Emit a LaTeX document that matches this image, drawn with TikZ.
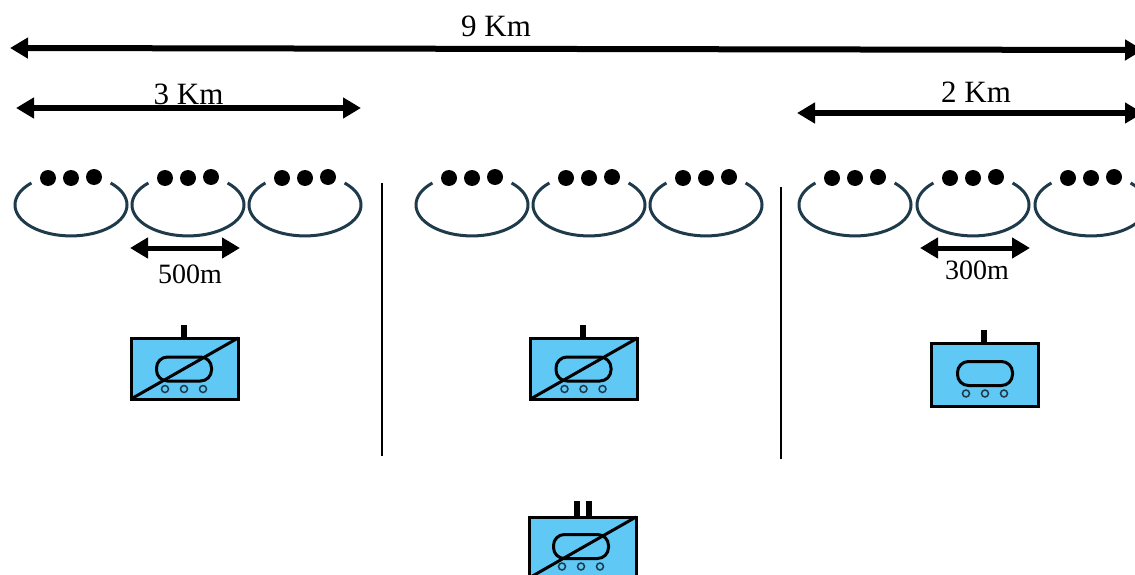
\documentclass[tikz,border=0pt]{standalone}
\usepackage{fontspec}
\setmainfont{Liberation Serif}
\usetikzlibrary{arrows.meta}
\definecolor{ringblue}{HTML}{1F3A4A}
\definecolor{boxblue}{HTML}{5FC8F5}
\tikzset{
	span/.style={line width=#1,{Triangle[length=18pt,width=20pt]}-{Triangle[length=18pt,width=20pt]}},
	ring/.style={draw=ringblue,line width=3pt},
	wall/.style={line width=2.5pt},
	stub/.style={line width=6pt},
	bsbox/.style={draw,fill=boxblue,line width=3pt,minimum width=107pt,minimum height=#1,inner sep=0pt,outer sep=0pt},
	tank/.style={draw,line width=3pt,rounded corners=11pt,minimum width=55pt,minimum height=24pt,inner sep=0pt,outer sep=0pt},
	wheel/.style={draw=ringblue,circle,line width=1.5pt,minimum size=7pt,inner sep=0pt},
	lengthlabel/.style={font=\fontsize{31pt}{31pt}\selectfont,inner sep=0pt},
	celllabel/.style={font=\fontsize{28pt}{28pt}\selectfont,inner sep=0pt}
}
\begin{document}
\begin{tikzpicture}[x=1pt,y=-1pt]
	\useasboundingbox (0,0) rectangle (1135,575);

	\coordinate (nineL) at (10,48);
	\coordinate (nineR) at (1143,50);
	\coordinate (threeL) at (16,108);
	\coordinate (threeR) at (361,108);
	\coordinate (twoL) at (797,113);
	\coordinate (twoR) at (1143,113);
	\coordinate (fiveL) at (130,248);
	\coordinate (fiveR) at (240,248);
	\coordinate (treL) at (920,248);
	\coordinate (treR) at (1030,248);

	\draw[span=6pt] (nineL) -- (nineR);
	\draw[span=5.5pt] (threeL) -- (threeR);
	\draw[span=5.5pt] (twoL) -- (twoR);
	\draw[span=5pt] (fiveL) -- (fiveR);
	\draw[span=5pt] (treL) -- (treR);

	\node[lengthlabel] (nine) at (496,26.5) {9 Km};
	\node[lengthlabel] (three) at (188.5,94.5) {3 Km};
	\node[lengthlabel] (two) at (976,92.5) {2 Km};
	\node[celllabel] (five) at (190,274.5) {500m};
	\node[celllabel] (tre) at (977,270.5) {300m};

	% cells
	\foreach \cx in {71,188,305,472,589,706,855,973,1091}{
		\draw[ring] (\cx+39.6,183) arc[start angle=45,end angle=-225,x radius=56pt,y radius=31pt];
		\fill (\cx-23,178) circle (8pt);
		\fill (\cx,178) circle (8pt);
		\fill (\cx+23,177) circle (8pt);
	}

	\coordinate (wallAtop) at (382,183);
	\coordinate (wallAbot) at (382,456);
	\coordinate (wallBtop) at (781,187);
	\coordinate (wallBbot) at (781,459);
	\draw[wall] (wallAtop) -- (wallAbot);
	\draw[wall] (wallBtop) -- (wallBbot);

	% stations
	\foreach \n/\x/\y/\h/\tx/\ty in {a/184.5/368.5/61pt/184/369,b/584/368.5/61pt/583.5/369,c/985/374.5/63pt/985/373.5,d/582.5/547.5/61pt/581/546.5}{
		\node[bsbox=\h] (box\n) at (\x,\y) {};
		\node[tank] (tank\n) at (\tx,\ty) {};
		\node[wheel] (wheel\n1) at (\tx-19,\ty+20) {};
		\node[wheel] (wheel\n2) at (\tx,\ty+20) {};
		\node[wheel] (wheel\n3) at (\tx+19,\ty+20) {};
	}
	\foreach \n in {a,b,d}{
		\draw[line width=3pt] (box\n.south west) -- (box\n.north east);
	}

	\foreach \n in {a,b,c}{
		\coordinate (stub\n) at ([xshift=-1pt,yshift=13pt]box\n.north);
		\draw[stub] (stub\n) -- (stub\n |- box\n.north);
	}
	\coordinate (stubd1) at ([xshift=-5.5pt,yshift=16pt]boxd.north);
	\coordinate (stubd2) at ([xshift=6pt,yshift=16pt]boxd.north);
	\draw[stub] (stubd1) -- (stubd1 |- boxd.north);
	\draw[stub] (stubd2) -- (stubd2 |- boxd.north);
\end{tikzpicture}
\end{document}
